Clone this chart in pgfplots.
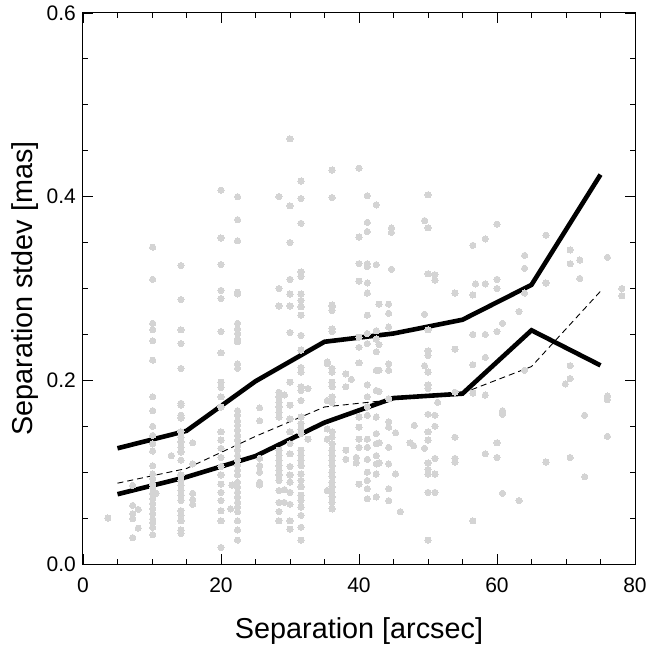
\documentclass[border=0pt]{standalone}
\usepackage{fontspec}
\setmainfont{Liberation Sans}
\usepackage{pgfplots}
\pgfplotsset{compat=1.18}
\definecolor{dotgray}{RGB}{212,212,212}
\begin{document}
\begin{tikzpicture}
\begin{axis}[
  at={(0,0)}, anchor=south west,
  scale only axis, width=552bp, height=551bp,
  xmin=0, xmax=80, ymin=0, ymax=0.6,
  xtick={0,20,40,60,80}, ytick={0,0.2,0.4,0.6},
  minor tick num=3,
  tick align=inside,
  major tick length=10bp, minor tick length=5.5bp,
  tick style={line width=0.9bp, black},
  axis line style={line width=1bp},
  /pgf/number format/assume math mode=true,
  ticklabel style={font=\fontsize{21bp}{22bp}\selectfont, inner sep=0pt},
  xticklabel shift=14bp, yticklabel shift=7bp,
  yticklabel style={/pgf/number format/fixed, /pgf/number format/fixed zerofill, /pgf/number format/precision=1},
  xlabel={Separation [arcsec]},
  ylabel={Separation stdev [mas]},
  label style={font=\fontsize{28.8bp}{30bp}\selectfont, inner sep=0pt},
  xlabel style={at={(axis description cs:0.5,-0.1361)}, anchor=base},
  ylabel style={at={(axis description cs:-0.0918,0.5)}, anchor=base},
  clip=false,
]
\addplot[only marks, color=dotgray, mark=*, mark size=3.1bp, mark options={draw=dotgray, fill=dotgray, line width=0pt}] coordinates {
(3.6,0.050)
(7.2,0.0856) (7.2,0.0638) (7.2,0.0548) (7.2,0.0493) (7.2,0.0287)
(8.0,0.0595) (8.0,0.039)
(10.1,0.345) (10.1,0.310) (10.1,0.262) (10.1,0.255) (10.1,0.243) (10.1,0.222) (10.1,0.182) (10.1,0.167) (10.1,0.150) (10.1,0.140) (10.1,0.131) (10.1,0.123) (10.1,0.107) (10.1,0.098) (10.1,0.093) (10.1,0.087) (10.1,0.083) (10.1,0.077) (10.1,0.071) (10.1,0.066) (10.1,0.060) (10.1,0.055) (10.1,0.049) (10.1,0.045) (10.1,0.040) (10.1,0.032)
(10.6,0.077)
(12.8,0.118)
(14.2,0.325) (14.2,0.288) (14.2,0.255) (14.2,0.240) (14.2,0.213) (14.2,0.175) (14.2,0.173) (14.2,0.162) (14.2,0.159) (14.2,0.144) (14.2,0.138) (14.2,0.133) (14.2,0.127) (14.2,0.122) (14.2,0.113) (14.2,0.097) (14.2,0.091) (14.2,0.086) (14.2,0.080) (14.2,0.075) (14.2,0.069) (14.2,0.058) (14.2,0.053) (14.2,0.047) (14.2,0.037) (14.2,0.033)
(15.9,0.132) (15.9,0.109) (15.9,0.077) (15.9,0.070) (15.9,0.065)
(20.0,0.407) (20.0,0.355) (20.0,0.326) (20.0,0.298) (20.0,0.289) (20.0,0.253) (20.0,0.230) (20.0,0.198) (20.0,0.192) (20.0,0.182) (20.0,0.171) (20.0,0.144) (20.0,0.135) (20.0,0.126) (20.0,0.116) (20.0,0.106) (20.0,0.097) (20.0,0.087) (20.0,0.078) (20.0,0.069) (20.0,0.058) (20.0,0.047) (20.0,0.018)
(21.4,0.060) (21.6,0.086)
(22.4,0.400) (22.4,0.375) (22.4,0.352) (22.4,0.296) (22.4,0.294) (22.4,0.262) (22.4,0.256) (22.4,0.251) (22.4,0.245) (22.4,0.242) (22.4,0.218) (22.4,0.213) (22.4,0.167) (22.4,0.162) (22.4,0.156) (22.4,0.151) (22.4,0.146) (22.4,0.140) (22.4,0.135) (22.4,0.129) (22.4,0.124) (22.4,0.118) (22.4,0.113) (22.4,0.108) (22.4,0.102) (22.4,0.097) (22.4,0.089) (22.4,0.084) (22.4,0.078) (22.4,0.073) (22.4,0.067) (22.4,0.062) (22.4,0.057) (22.4,0.047) (22.4,0.037) (22.4,0.026)
(25.6,0.170) (25.6,0.156) (25.6,0.115) (25.6,0.107) (25.6,0.100) (25.6,0.089) (25.6,0.086)
(28.4,0.400) (28.4,0.300) (28.4,0.281) (28.4,0.187) (28.4,0.182) (28.4,0.176) (28.4,0.171) (28.4,0.165) (28.4,0.160) (28.4,0.124) (28.4,0.118) (28.4,0.113) (28.4,0.107) (28.4,0.102) (28.4,0.097) (28.4,0.091) (28.4,0.080) (28.4,0.067) (28.4,0.057) (28.4,0.047)
(29.2,0.184) (29.2,0.081) (29.2,0.067)
(30.0,0.463) (30.0,0.390) (30.0,0.350) (30.0,0.310) (30.0,0.294) (30.0,0.281) (30.0,0.252) (30.0,0.198) (30.0,0.173) (30.0,0.158) (30.0,0.144) (30.0,0.131) (30.0,0.120) (30.0,0.106) (30.0,0.097) (30.0,0.089) (30.0,0.078) (30.0,0.065) (30.0,0.047) (30.0,0.038)
(31.6,0.417) (31.6,0.398) (31.6,0.371) (31.6,0.318) (31.6,0.313) (31.6,0.294) (31.6,0.287) (31.6,0.280) (31.6,0.271) (31.6,0.249) (31.6,0.233) (31.6,0.214) (31.6,0.209) (31.6,0.193) (31.6,0.189) (31.6,0.178) (31.6,0.160) (31.6,0.153) (31.6,0.147) (31.6,0.142) (31.6,0.124) (31.6,0.118) (31.6,0.113) (31.6,0.107) (31.6,0.098) (31.6,0.091) (31.6,0.084) (31.6,0.075) (31.6,0.069) (31.6,0.062) (31.6,0.053) (31.6,0.040) (31.6,0.026)
(32.6,0.191) (32.6,0.136)
(35.4,0.220) (35.4,0.218) (35.4,0.178) (35.4,0.147) (35.4,0.136) (35.4,0.080)
(36.1,0.429) (36.1,0.399) (36.1,0.282) (36.1,0.280) (36.1,0.276) (36.1,0.256) (36.1,0.253) (36.1,0.213) (36.1,0.209) (36.1,0.198) (36.1,0.193) (36.1,0.182) (36.1,0.176) (36.1,0.144) (36.1,0.138) (36.1,0.131) (36.1,0.124) (36.1,0.118) (36.1,0.113) (36.1,0.107) (36.1,0.100) (36.1,0.095) (36.1,0.089) (36.1,0.084) (36.1,0.078) (36.1,0.073) (36.1,0.067) (36.1,0.060)
(38.1,0.207) (38.1,0.193) (38.1,0.124) (38.1,0.114)
(38.9,0.201)
(39.6,0.116) (39.6,0.110)
(40.0,0.431) (40.0,0.356) (40.0,0.327) (40.0,0.308) (40.0,0.247) (40.0,0.236) (40.0,0.219) (40.0,0.160) (40.0,0.149) (40.0,0.136) (40.0,0.127) (40.0,0.087)
(41.2,0.401) (41.2,0.372) (41.2,0.362) (41.2,0.327) (41.2,0.324) (41.2,0.306) (41.2,0.295) (41.2,0.271) (41.2,0.251) (41.2,0.240) (41.2,0.195) (41.2,0.182) (41.2,0.171) (41.2,0.162) (41.2,0.136) (41.2,0.127) (41.2,0.114) (41.2,0.100) (41.2,0.091) (41.2,0.082) (41.2,0.071)
(42.5,0.391) (42.5,0.326) (42.5,0.254) (42.5,0.245) (42.5,0.231) (42.5,0.211) (42.5,0.189) (42.5,0.160) (42.5,0.142) (42.5,0.131) (42.5,0.118) (42.5,0.109) (42.5,0.098) (42.5,0.073)
(42.9,0.283) (42.9,0.239) (42.9,0.211) (42.9,0.188) (42.9,0.132) (42.9,0.110)
(44.3,0.283) (44.3,0.273) (44.3,0.258) (44.3,0.218) (44.3,0.211) (44.3,0.180) (44.3,0.155) (44.3,0.149) (44.3,0.127) (44.3,0.109) (44.3,0.082) (44.3,0.069)
(44.7,0.366) (44.7,0.361) (44.7,0.321)
(45.3,0.143) (45.3,0.098)
(46.0,0.057)
(47.4,0.132) (47.9,0.129) (48.0,0.151)
(49.5,0.374) (49.5,0.272) (49.5,0.216) (49.5,0.126)
(50.0,0.402) (50.0,0.366) (50.0,0.316) (50.0,0.255) (50.0,0.232) (50.0,0.227) (50.0,0.209) (50.0,0.195) (50.0,0.191) (50.0,0.163) (50.0,0.144) (50.0,0.135) (50.0,0.110) (50.0,0.103) (50.0,0.098) (50.0,0.078) (50.0,0.026)
(51.0,0.315) (51.0,0.309) (51.0,0.162) (51.0,0.150) (51.0,0.115) (51.0,0.098) (51.0,0.078)
(51.4,0.176)
(53.9,0.295) (53.9,0.234) (53.9,0.187) (53.9,0.138) (53.9,0.115) (53.9,0.111)
(56.5,0.347) (56.5,0.293) (56.5,0.250) (56.5,0.217) (56.5,0.186) (56.5,0.047)
(56.9,0.305)
(58.3,0.354) (58.3,0.305) (58.3,0.250) (58.3,0.225) (58.3,0.184) (58.3,0.120)
(60.0,0.370) (60.0,0.310) (60.0,0.300) (60.0,0.253) (60.0,0.132) (60.0,0.116)
(60.8,0.262) (60.8,0.167) (60.8,0.163) (60.8,0.077)
(63.2,0.275) (63.2,0.069)
(64.0,0.336) (64.0,0.322) (64.0,0.295) (64.0,0.211)
(67.1,0.358) (67.1,0.306) (67.1,0.111)
(69.9,0.196)
(70.6,0.342) (70.6,0.327) (70.6,0.216) (70.6,0.202) (70.6,0.116)
(72.0,0.331) (72.0,0.311)
(72.7,0.162) (72.7,0.095)
(76.0,0.334) (76.0,0.183) (76.0,0.179) (76.0,0.139)
(78.1,0.300) (78.1,0.292)
};
\addplot[black, line width=4.6bp, no marks] coordinates {
(5,0.126) (15,0.145) (25,0.199) (35,0.242) (45,0.251) (55,0.266) (65,0.304) (75,0.424)
};
\addplot[black, line width=4.6bp, no marks] coordinates {
(5,0.076) (15,0.0947) (25,0.1175) (35,0.154) (45,0.1807) (55,0.1855) (65,0.2545) (75,0.2163)
};
\addplot[black, line width=0.9bp, dash pattern=on 6bp off 4bp, no marks] coordinates {
(5,0.088) (15,0.104) (25,0.139) (35,0.171) (45,0.179) (55,0.186) (65,0.215) (75,0.297)
};
\end{axis}
\pgfresetboundingbox
\useasboundingbox (-83bp,-85bp) rectangle (579bp,564bp);
\end{tikzpicture}
\end{document}
